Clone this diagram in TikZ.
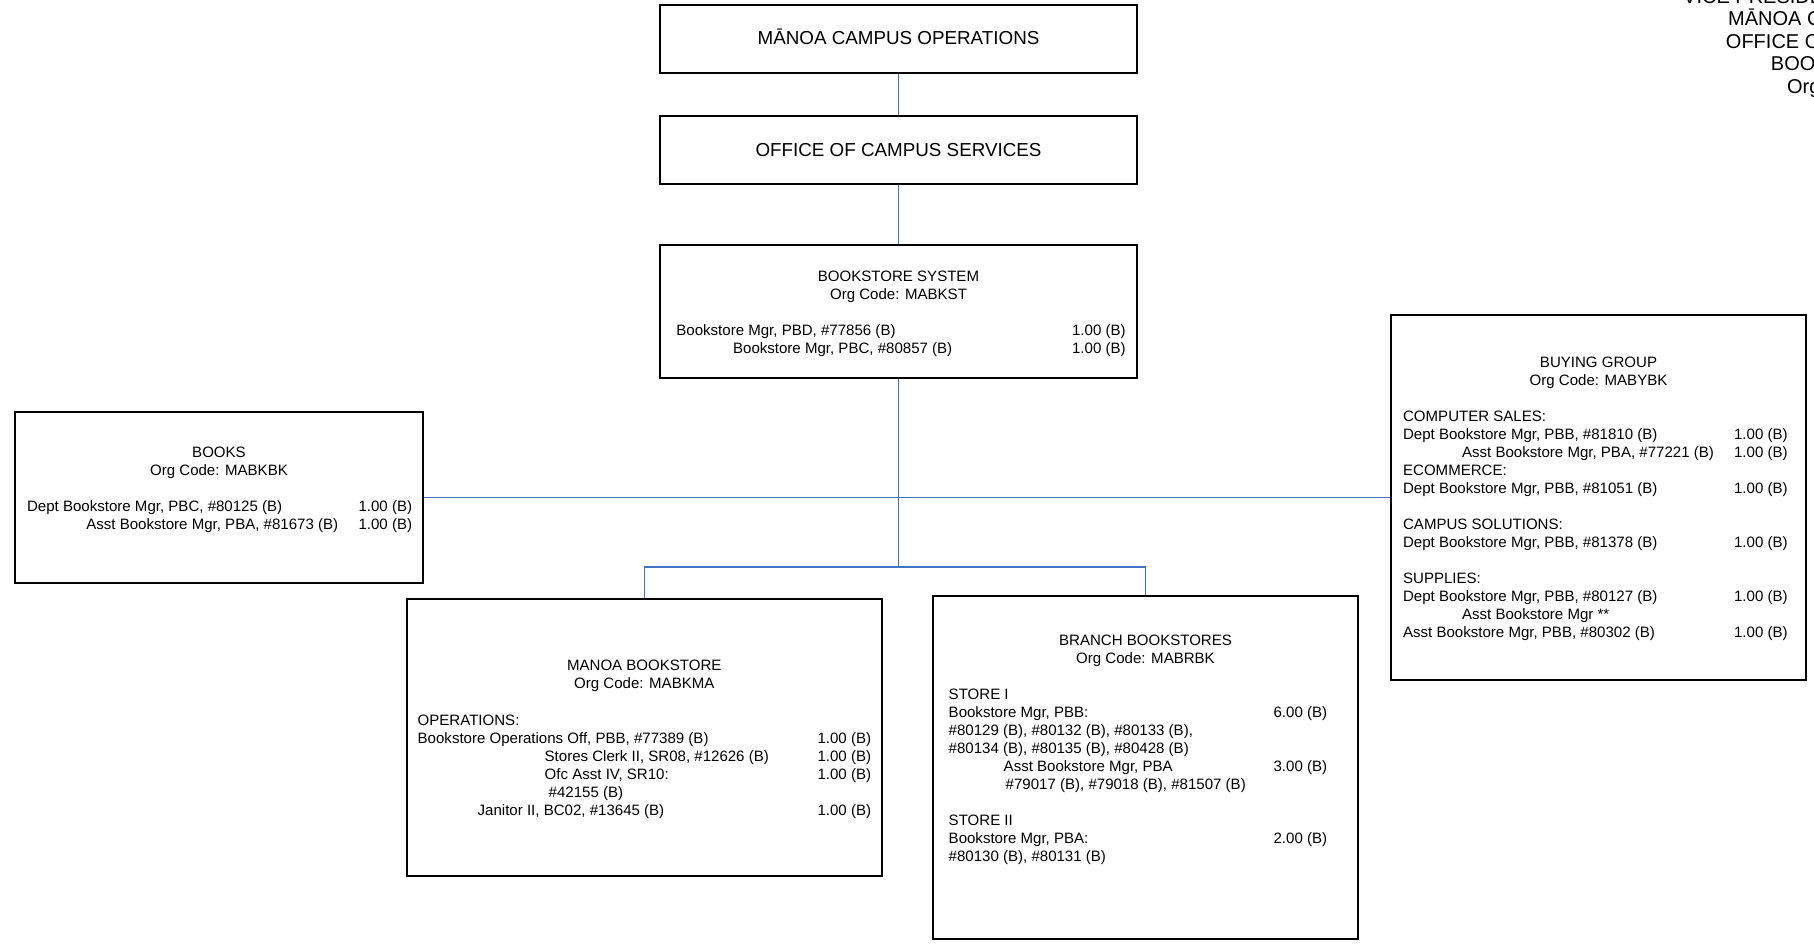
\documentclass[tikz,border=0pt]{standalone}
\usepackage{fontspec}
\setmainfont{Liberation Sans}
\definecolor{linkblue}{RGB}{68,114,196}
\newcommand\Lt[4]{\node[txt,anchor=base west] (#1) at (#2,#3) {#4};}
\newcommand\Rt[4]{\node[txt,anchor=base east] (#1) at (#2,#3) {#4};}
\newcommand\Ct[4]{\node[txt,anchor=base] (#1) at (#2,#3) {#4};}
\begin{document}
\begin{tikzpicture}[x=0.5pt,y=-0.5pt,
  box/.style={draw=black, line width=0.9pt, fill=white, inner sep=0pt, rectangle},
  conn/.style={draw=linkblue, line width=0.75pt},
  txt/.style={inner sep=0pt, font=\fontsize{7.525}{9}\selectfont},
  big/.style={inner sep=0pt, font=\fontsize{9.4}{11}\selectfont},
  vp/.style={inner sep=0pt, font=\fontsize{10}{11.2}\selectfont},
]
\useasboundingbox (0,0) rectangle (1814,947);
\clip (0,0) rectangle (1814,947);

% boxes
\node[box, minimum width=238.5pt, minimum height=34pt] (top) at (898.5,39) {};
\node[box, minimum width=238.5pt, minimum height=34pt] (office) at (898.5,150) {};
\node[box, minimum width=238.5pt, minimum height=66.5pt] (bs) at (898.5,311.5) {};
\node[box, minimum width=204pt, minimum height=85.5pt] (books) at (219,497.5) {};
\node[box, minimum width=207.5pt, minimum height=182.5pt] (buying) at (1598.5,497.5) {};
\node[box, minimum width=237.65pt, minimum height=138.2pt] (manoa) at (644.35,737.5) {};
\node[box, minimum width=212.2pt, minimum height=171.5pt] (branch) at (1145.5,767.2) {};

% connectors
\coordinate (j1) at (898.5,567);
\draw[conn] (top.south) -- (office.north);
\draw[conn] (office.south) -- (bs.north);
\draw[conn] (bs.south) -- (j1);
\draw[conn] (books.east) -- (buying.west);
\draw[conn] (manoa.north) |- (j1) -| (branch.north);

% top texts
\node[big, anchor=base] (t1) at (898.5,45) {MĀNOA CAMPUS OPERATIONS};
\node[big, anchor=base] (t2) at (898.5,156) {OFFICE OF CAMPUS SERVICES};

% bookstore system
\Ct{bs1}{898.5}{281}{BOOKSTORE SYSTEM}
\Ct{bs2}{898.5}{299}{Org Code: MABKST}
\Lt{bs3}{676}{335.5}{Bookstore Mgr, PBD, \#77856 (B)}
\Rt{bs3r}{1126}{335.5}{1.00 (B)}
\Lt{bs4}{732.7}{353.5}{Bookstore Mgr, PBC, \#80857 (B)}
\Rt{bs4r}{1126}{353.5}{1.00 (B)}

% books
\Ct{bk1}{219}{457}{BOOKS}
\Ct{bk2}{219}{475}{Org Code: MABKBK}
\Lt{bk3}{26.7}{511.5}{Dept Bookstore Mgr, PBC, \#80125 (B)}
\Rt{bk3r}{412.5}{511.5}{1.00 (B)}
\Lt{bk4}{86}{529.5}{Asst Bookstore Mgr, PBA, \#81673 (B)}
\Rt{bk4r}{412.5}{529.5}{1.00 (B)}

% buying group
\Ct{bg1}{1598.5}{367}{BUYING GROUP}
\Ct{bg2}{1598.5}{385}{Org Code: MABYBK}
\Lt{bg3}{1402.7}{421}{COMPUTER SALES:}
\Lt{bg4}{1402.7}{439}{Dept Bookstore Mgr, PBB, \#81810 (B)}
\Rt{bg4r}{1788}{439}{1.00 (B)}
\Lt{bg5}{1461.7}{457}{Asst Bookstore Mgr, PBA, \#77221 (B)}
\Rt{bg5r}{1788}{457}{1.00 (B)}
\Lt{bg6}{1402.7}{475}{ECOMMERCE:}
\Lt{bg7}{1402.7}{493}{Dept Bookstore Mgr, PBB, \#81051 (B)}
\Rt{bg7r}{1788}{493}{1.00 (B)}
\Lt{bg8}{1402.7}{529}{CAMPUS SOLUTIONS:}
\Lt{bg9}{1402.7}{547}{Dept Bookstore Mgr, PBB, \#81378 (B)}
\Rt{bg9r}{1788}{547}{1.00 (B)}
\Lt{bg10}{1402.7}{583}{SUPPLIES:}
\Lt{bg11}{1402.7}{601}{Dept Bookstore Mgr, PBB, \#80127 (B)}
\Rt{bg11r}{1788}{601}{1.00 (B)}
\Lt{bg12}{1461.7}{619}{Asst Bookstore Mgr **}
\Lt{bg13}{1402.7}{637}{Asst Bookstore Mgr, PBB, \#80302 (B)}
\Rt{bg13r}{1788}{637}{1.00 (B)}

% manoa bookstore
\Ct{mb1}{644.3}{670.5}{MANOA BOOKSTORE}
\Ct{mb2}{644.3}{688.5}{Org Code: MABKMA}
\Lt{mb3}{417.3}{725}{OPERATIONS:}
\Lt{mb4}{417.3}{743}{Bookstore Operations Off, PBB, \#77389 (B)}
\Rt{mb4r}{871.5}{743}{1.00 (B)}
\Lt{mb5}{544.3}{761}{Stores Clerk II, SR08, \#12626 (B)}
\Rt{mb5r}{871.5}{761}{1.00 (B)}
\Lt{mb6}{544.3}{779}{Ofc Asst IV, SR10:}
\Rt{mb6r}{871.5}{779}{1.00 (B)}
\Lt{mb7}{548.3}{797}{\#42155 (B)}
\Lt{mb8}{477.3}{815}{Janitor II, BC02, \#13645 (B)}
\Rt{mb8r}{871.5}{815}{1.00 (B)}

% branch bookstores
\Ct{br1}{1145.5}{645}{BRANCH BOOKSTORES}
\Ct{br2}{1145.5}{663}{Org Code: MABRBK}
\Lt{br3}{948.3}{699}{STORE I}
\Lt{br4}{948.3}{717}{Bookstore Mgr, PBB:}
\Rt{br4r}{1327.5}{717}{6.00 (B)}
\Lt{br5}{948.3}{735}{\#80129 (B), \#80132 (B), \#80133 (B),}
\Lt{br6}{948.3}{753}{\#80134 (B), \#80135 (B), \#80428 (B)}
\Lt{br7}{1003.3}{771}{Asst Bookstore Mgr, PBA}
\Rt{br7r}{1327.5}{771}{3.00 (B)}
\Lt{br8}{1005.3}{789}{\#79017 (B), \#79018 (B), \#81507 (B)}
\Lt{br9}{948.3}{825}{STORE II}
\Lt{br10}{948.3}{843}{Bookstore Mgr, PBA:}
\Rt{br10r}{1327.5}{843}{2.00 (B)}
\Lt{br11}{948.3}{861}{\#80130 (B), \#80131 (B)}

% vice president header (cut by the page edge, as in the reference)
\node[vp, anchor=base] (vp1) at (1878,3.6) {VICE PRESIDENT FOR ADMINISTRATION};
\node[vp, anchor=base] (vp2) at (1878,26) {MĀNOA CAMPUS OPERATIONS};
\node[vp, anchor=base] (vp3) at (1878,48.4) {OFFICE OF CAMPUS SERVICES};
\node[vp, anchor=base] (vp4) at (1878,70.8) {BOOKSTORE SYSTEM};
\node[vp, anchor=base] (vp5) at (1878,93.2) {Org Code: MABKST};
\end{tikzpicture}
\end{document}
